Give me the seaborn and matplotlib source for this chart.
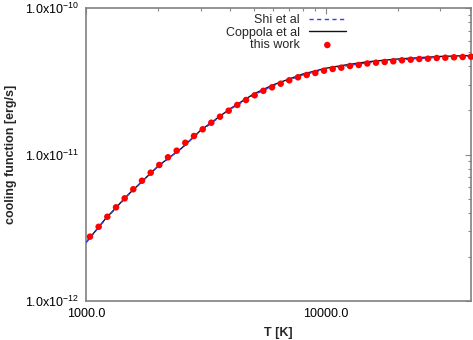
import numpy as np
import pandas as pd
import matplotlib
matplotlib.use("Agg")
import matplotlib.pyplot as plt
import seaborn as sns
from matplotlib.ticker import FixedLocator, FixedFormatter, LogLocator, NullFormatter

# ---- data ----
T_work = [1039, 1129, 1227, 1334, 1449, 1574, 1711, 1860, 2020, 2196,
          2387, 2593, 2818, 3064, 3328, 3617, 3932, 4270, 4642, 5046,
          5482, 5957, 6476, 7033, 7643, 8311, 9025, 9810, 10665, 11580,
          12589, 13690, 14866, 16156, 17563, 19074, 20735, 22540, 24480, 26607,
          28930, 31420, 34150, 37120, 40200]
L_work = [2.75e-12, 3.21e-12, 3.76e-12, 4.36e-12, 5.02e-12, 5.79e-12, 6.62e-12, 7.51e-12, 8.48e-12, 9.57e-12,
          1.062e-11, 1.203e-11, 1.337e-11, 1.486e-11, 1.648e-11, 1.811e-11, 1.991e-11, 2.178e-11, 2.355e-11, 2.536e-11,
          2.721e-11, 2.875e-11, 3.042e-11, 3.209e-11, 3.365e-11, 3.489e-11, 3.600e-11, 3.733e-11, 3.834e-11, 3.914e-11,
          4.019e-11, 4.083e-11, 4.181e-11, 4.233e-11, 4.280e-11, 4.327e-11, 4.395e-11, 4.437e-11, 4.486e-11, 4.507e-11,
          4.557e-11, 4.579e-11, 4.607e-11, 4.629e-11, 4.650e-11]

T_line = [1000, 1200, 1500, 2000, 2500, 3000, 4000, 5000, 6000, 8000,
          10000, 12000, 15000, 20000, 25000, 30000, 40200]
L_shi = [2.50e-12, 3.58e-12, 5.30e-12, 8.32e-12, 1.10e-11, 1.446e-11, 2.04e-11, 2.55e-11, 2.93e-11, 3.49e-11,
         3.82e-11, 4.02e-11, 4.23e-11, 4.42e-11, 4.53e-11, 4.60e-11, 4.70e-11]
L_coppola = [2.51e-12, 3.61e-12, 5.33e-12, 8.35e-12, 1.103e-11, 1.46e-11, 2.06e-11, 2.59e-11, 2.98e-11, 3.54e-11,
             3.88e-11, 4.08e-11, 4.30e-11, 4.49e-11, 4.59e-11, 4.67e-11, 4.74e-11]

x_ticks = [1000, 10000]
x_ticklabels = ["1000.0", "10000.0"]
y_ticks = [1e-12, 1e-11, 1e-10]
y_ticklabels = [r"1.0x10$^{-12}$", r"1.0x10$^{-11}$", r"1.0x10$^{-10}$"]

sns.set_style("white")
plt.rcParams["font.family"] = ["Liberation Sans", "DejaVu Sans"]
plt.rcParams["mathtext.fontset"] = "custom"
plt.rcParams["mathtext.rm"] = "Liberation Sans"
plt.rcParams["mathtext.default"] = "regular"

fig = plt.figure(figsize=(4.73, 3.40), dpi=100)
ax = fig.add_axes([86 / 473, 1 - 301 / 340, (471 - 86) / 473, (301 - 8) / 340])

df_shi = pd.DataFrame({"T": T_line, "L": L_shi})
df_cop = pd.DataFrame({"T": T_line, "L": L_coppola})
df_work = pd.DataFrame({"T": T_work, "L": L_work})

sns.lineplot(data=df_shi, x="T", y="L", ax=ax, color="#3a3aff", lw=1.0,
             linestyle=(0, (3, 2.5)), label="Shi et al", zorder=3)
sns.lineplot(data=df_cop, x="T", y="L", ax=ax, color="#111111", lw=1.0,
             label="Coppola et al", zorder=2)
sns.scatterplot(data=df_work, x="T", y="L", ax=ax, color="#ff0000", s=22,
                edgecolor="none", label="this work", zorder=4, clip_on=False)

ax.set_xscale("log")
ax.set_yscale("log")
ax.set_xlim(1000, 40200)
ax.set_ylim(1e-12, 1e-10)

ax.xaxis.set_major_locator(FixedLocator(x_ticks))
ax.xaxis.set_major_formatter(FixedFormatter(x_ticklabels))
ax.xaxis.set_minor_locator(LogLocator(base=10, subs=np.arange(2, 10)))
ax.xaxis.set_minor_formatter(NullFormatter())
ax.yaxis.set_major_locator(FixedLocator(y_ticks))
ax.yaxis.set_major_formatter(FixedFormatter(y_ticklabels))
ax.yaxis.set_minor_locator(LogLocator(base=10, subs=np.arange(2, 10)))
ax.yaxis.set_minor_formatter(NullFormatter())

ax.tick_params(which="both", direction="in", top=True, right=True,
               color="#888888", width=0.8, labelsize=9, labelcolor="black")
ax.tick_params(which="major", length=4.5, pad=5)
ax.tick_params(which="minor", length=2.3)
for s in ax.spines.values():
    s.set_color("#808080")
    s.set_linewidth(1.2)

ax.set_xlabel("T [K]", fontsize=9, fontweight="bold", labelpad=5)
ax.set_ylabel("cooling function [erg/s]", fontsize=9, fontweight="bold", labelpad=6)

leg = ax.legend(loc="upper right", bbox_to_anchor=(0.695, 1.005), frameon=False,
                markerfirst=False, fontsize=9, handlelength=3.0, handletextpad=0.7,
                labelspacing=0.05, borderaxespad=0.2)
try:
    leg._legend_box._children[1]._children[0].align = "right"
except Exception:
    pass

fig.savefig("out.png", dpi=100)
